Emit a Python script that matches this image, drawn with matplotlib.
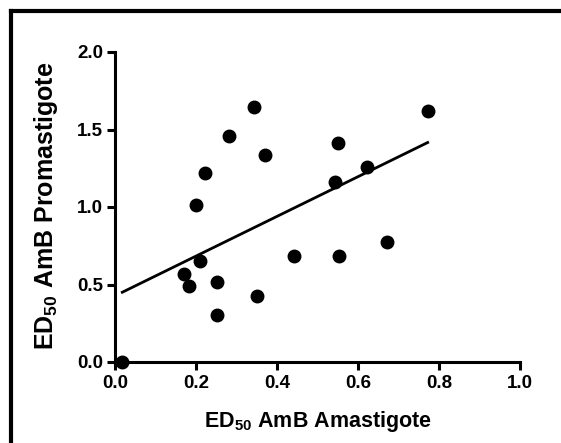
import matplotlib
matplotlib.use("Agg")
import matplotlib.pyplot as plt
from matplotlib.lines import Line2D

plt.rcParams['font.family'] = ['Liberation Sans', 'DejaVu Sans']
plt.rcParams['font.weight'] = 'bold'
plt.rcParams['mathtext.fontset'] = 'custom'
plt.rcParams['mathtext.rm'] = 'Liberation Sans:bold'
plt.rcParams['mathtext.default'] = 'rm'

# Data
amastigote = [0.018, 0.171, 0.182, 0.200, 0.211, 0.222, 0.251, 0.251, 0.282, 0.342,
              0.350, 0.370, 0.441, 0.542, 0.551, 0.553, 0.621, 0.672, 0.772]
promastigote = [0.00, 0.566, 0.493, 1.016, 0.649, 1.217, 0.515, 0.303, 1.457, 1.648,
                0.424, 1.334, 0.681, 1.161, 1.416, 0.681, 1.261, 0.774, 1.617]
fit_x = [0.018, 0.772]
fit_y = [0.450, 1.416]
x_ticks = [0.0, 0.2, 0.4, 0.6, 0.8, 1.0]
y_ticks = [0.0, 0.5, 1.0, 1.5, 2.0]
x_label = "ED$_{50}$ AmB Amastigote"
y_label = "ED$_{50}$ AmB Promastigote"

W, H = 561, 443
fig = plt.figure(figsize=(W/100, H/100), dpi=100)
ax = fig.add_axes([115/W, 1-362/H, (520-115)/W, (362-52)/H])

ax.plot(fit_x, fit_y, color='black', lw=2.0, zorder=2)
ax.plot(amastigote, promastigote, 'o', color='black', ms=9, clip_on=False, zorder=3)

ax.set_xlim(0, 1.0)
ax.set_ylim(0, 2.0)
ax.set_xticks(x_ticks)
ax.set_yticks(y_ticks)
ax.set_xticklabels([f"{v:.1f}" for v in x_ticks], fontweight='bold', fontsize=13.5)
ax.set_yticklabels([f"{v:.1f}" for v in y_ticks], fontweight='bold', fontsize=13.5)
for s in ['top', 'right']:
    ax.spines[s].set_visible(False)
for s in ['left', 'bottom']:
    ax.spines[s].set_linewidth(2.2)
ax.tick_params(width=2.2, length=5.5)
ax.tick_params(axis='y', pad=3)
ax.tick_params(axis='x', pad=4)

fig.text(318/W, 1-427/H, x_label, fontsize=15.5, fontweight='bold', ha='center', va='baseline')
fig.text(46/W, 1-206/H, y_label, fontsize=18, fontweight='bold', ha='center', va='center',
         rotation=90)

# Outer frame (top and left edges visible)
fig.add_artist(Line2D([11/W, 11/W], [0, 1-11/H], color='black', lw=3, transform=fig.transFigure))
fig.add_artist(Line2D([11/W, 1], [1-11/H, 1-11/H], color='black', lw=3, transform=fig.transFigure))

fig.savefig("out.png", dpi=100)
